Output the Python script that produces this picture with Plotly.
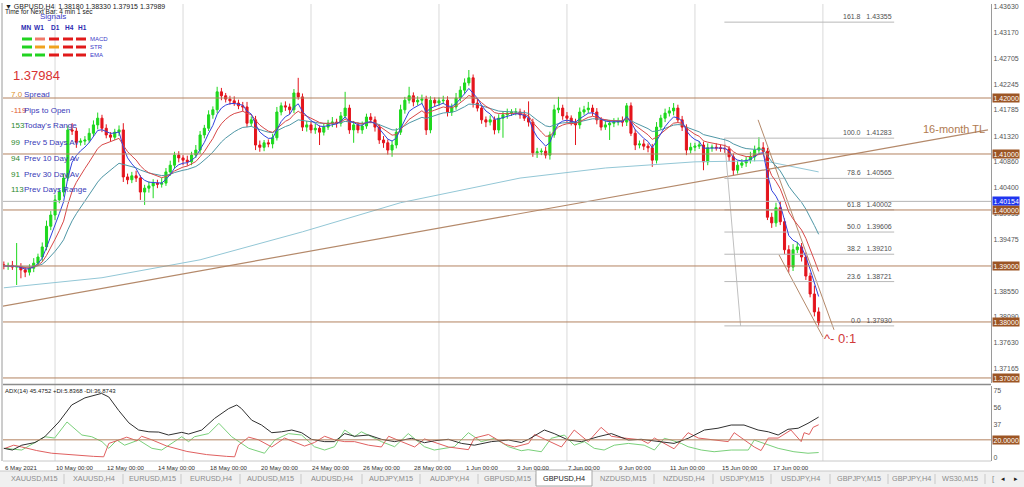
import numpy as np
import pandas as pd
import plotly.graph_objects as go

# ---------------- data (GBPUSD H4, bars from 6 May 2021 00:00) ----------------
OPEN = [1.3902, 1.3900, 1.3901, 1.3898, 1.3899, 1.3893, 1.3889, 1.3896, 1.3905, 1.3916, 1.3934, 1.3971,
        1.3991, 1.4018, 1.4032, 1.4057, 1.4143, 1.4141, 1.4121, 1.4123, 1.4125, 1.4137, 1.4152, 1.4164,
        1.4146, 1.4134, 1.4130, 1.4139, 1.4143, 1.4059, 1.4054, 1.4061, 1.4057, 1.4032, 1.4039, 1.4043,
        1.4048, 1.4046, 1.4048, 1.4068, 1.4080, 1.4098, 1.4093, 1.4089, 1.4086, 1.4098, 1.4107, 1.4134,
        1.4146, 1.4170, 1.4179, 1.4211, 1.4204, 1.4198, 1.4195, 1.4191, 1.4186, 1.4184, 1.4155, 1.4161,
        1.4116, 1.4112, 1.4120, 1.4118, 1.4129, 1.4175, 1.4186, 1.4184, 1.4179, 1.4209, 1.4202, 1.4148,
        1.4152, 1.4143, 1.4146, 1.4139, 1.4148, 1.4155, 1.4157, 1.4155, 1.4168, 1.4182, 1.4143, 1.4152,
        1.4143, 1.4150, 1.4166, 1.4161, 1.4148, 1.4125, 1.4120, 1.4107, 1.4116, 1.4139, 1.4179, 1.4196,
        1.4204, 1.4193, 1.4196, 1.4198, 1.4143, 1.4196, 1.4191, 1.4195, 1.4196, 1.4175, 1.4184, 1.4200,
        1.4214, 1.4227, 1.4236, 1.4191, 1.4182, 1.4161, 1.4157, 1.4161, 1.4143, 1.4164, 1.4170, 1.4173,
        1.4175, 1.4175, 1.4170, 1.4164, 1.4157, 1.4102, 1.4104, 1.4105, 1.4098, 1.4134, 1.4179, 1.4182,
        1.4168, 1.4164, 1.4157, 1.4152, 1.4175, 1.4179, 1.4182, 1.4175, 1.4161, 1.4148, 1.4152, 1.4155,
        1.4157, 1.4159, 1.4157, 1.4186, 1.4137, 1.4116, 1.4118, 1.4114, 1.4111, 1.4089, 1.4148, 1.4164,
        1.4173, 1.4177, 1.4182, 1.4161, 1.4148, 1.4107, 1.4112, 1.4114, 1.4116, 1.4086, 1.4111, 1.4112,
        1.4111, 1.4110, 1.4109, 1.4095, 1.4071, 1.4080, 1.4084, 1.4089, 1.4095, 1.4107, 1.4111, 1.4105,
        1.3987, 1.3977, 1.4004, 1.3979, 1.3929, 1.3898, 1.3929, 1.3934, 1.3916, 1.3882, 1.3850, 1.3818]

CLOSE = [1.3900, 1.3901, 1.3898, 1.3899, 1.3893, 1.3889, 1.3896, 1.3905, 1.3916, 1.3934, 1.3971, 1.3991,
         1.4018, 1.4032, 1.4057, 1.4143, 1.4141, 1.4121, 1.4123, 1.4125, 1.4137, 1.4152, 1.4164, 1.4146,
         1.4134, 1.4130, 1.4139, 1.4143, 1.4059, 1.4054, 1.4061, 1.4057, 1.4032, 1.4039, 1.4043, 1.4048,
         1.4046, 1.4048, 1.4068, 1.4080, 1.4098, 1.4093, 1.4089, 1.4086, 1.4098, 1.4107, 1.4134, 1.4146,
         1.4170, 1.4179, 1.4211, 1.4204, 1.4198, 1.4195, 1.4191, 1.4186, 1.4184, 1.4155, 1.4161, 1.4116,
         1.4112, 1.4120, 1.4118, 1.4129, 1.4175, 1.4186, 1.4184, 1.4179, 1.4209, 1.4202, 1.4148, 1.4152,
         1.4143, 1.4146, 1.4139, 1.4148, 1.4155, 1.4157, 1.4155, 1.4168, 1.4182, 1.4143, 1.4152, 1.4143,
         1.4150, 1.4166, 1.4161, 1.4148, 1.4125, 1.4120, 1.4107, 1.4116, 1.4139, 1.4179, 1.4196, 1.4204,
         1.4193, 1.4196, 1.4198, 1.4143, 1.4196, 1.4191, 1.4195, 1.4196, 1.4175, 1.4184, 1.4200, 1.4214,
         1.4227, 1.4236, 1.4191, 1.4182, 1.4161, 1.4157, 1.4161, 1.4143, 1.4164, 1.4170, 1.4173, 1.4175,
         1.4175, 1.4170, 1.4164, 1.4157, 1.4102, 1.4104, 1.4105, 1.4098, 1.4134, 1.4179, 1.4182, 1.4168,
         1.4164, 1.4157, 1.4152, 1.4175, 1.4179, 1.4182, 1.4175, 1.4161, 1.4148, 1.4152, 1.4155, 1.4157,
         1.4159, 1.4157, 1.4186, 1.4137, 1.4116, 1.4118, 1.4114, 1.4111, 1.4089, 1.4148, 1.4164, 1.4173,
         1.4177, 1.4182, 1.4161, 1.4148, 1.4107, 1.4112, 1.4114, 1.4116, 1.4086, 1.4111, 1.4112, 1.4111,
         1.4110, 1.4109, 1.4095, 1.4071, 1.4080, 1.4084, 1.4089, 1.4095, 1.4107, 1.4111, 1.4105, 1.3987,
         1.3977, 1.4004, 1.3979, 1.3929, 1.3898, 1.3929, 1.3934, 1.3916, 1.3882, 1.3850, 1.3818, 1.37989]

# wick lengths above / below the candle body, in pips
UPPER_WICK = [6, 5, 8, 42, 6, 5, 7, 9, 6, 8, 10, 7, 9, 6, 8, 8, 12, 6, 5, 7, 9, 8, 10, 6,
              7, 5, 6, 8, 12, 6, 7, 9, 5, 6, 8, 7, 6, 9, 7, 8, 6, 7, 5, 8, 6, 9, 7, 6,
              8, 6, 9, 7, 5, 6, 8, 6, 7, 9, 6, 7, 8, 5, 6, 7, 9, 6, 8, 6, 7, 27, 6, 7,
              6, 8, 5, 7, 6, 9, 6, 7, 29, 6, 7, 5, 8, 6, 7, 6, 5, 7, 6, 8, 7, 9, 6, 16,
              6, 7, 8, 6, 7, 5, 6, 8, 7, 6, 9, 7, 8, 14, 6, 7, 5, 6, 8, 6, 7, 6, 8, 5,
              7, 6, 8, 30, 6, 7, 5, 8, 6, 9, 20, 6, 7, 5, 6, 8, 7, 11, 6, 7, 5, 8, 6, 7,
              6, 8, 5, 6, 7, 6, 8, 5, 7, 9, 6, 8, 7, 9, 6, 7, 5, 8, 6, 7, 6, 8, 5, 7,
              6, 7, 5, 6, 8, 7, 6, 9, 8, 19, 10, 6, 8, 9, 12, 6, 8, 10, 9, 7, 8, 6, 15, 8]
LOWER_WICK = [6, 7, 5, 32, 15, 9, 6, 7, 5, 8, 6, 7, 9, 6, 8, 5, 7, 10, 6, 7, 5, 6, 8, 7,
              6, 8, 5, 7, 9, 8, 6, 7, 14, 23, 8, 22, 7, 6, 5, 7, 6, 8, 9, 7, 6, 5, 7, 6,
              5, 7, 6, 8, 6, 7, 5, 6, 8, 7, 6, 9, 8, 7, 6, 8, 5, 6, 7, 8, 6, 5, 7, 8,
              6, 7, 23, 6, 5, 7, 8, 6, 5, 7, 23, 6, 7, 5, 6, 8, 7, 9, 8, 12, 6, 5, 7, 6,
              8, 6, 7, 9, 6, 7, 5, 6, 8, 7, 5, 6, 7, 5, 8, 6, 7, 9, 6, 8, 6, 35, 7, 5,
              6, 7, 5, 8, 7, 9, 6, 6, 8, 5, 6, 7, 8, 6, 36, 7, 5, 6, 7, 8, 6, 5, 27, 7,
              6, 8, 7, 5, 9, 6, 7, 8, 12, 6, 5, 7, 6, 8, 5, 7, 9, 6, 7, 5, 15, 6, 7, 5,
              6, 7, 8, 10, 6, 5, 7, 6, 8, 5, 6, 5, 9, 7, 6, 8, 10, 7, 6, 8, 7, 6, 8, 7]

# long-term moving average, read at a few bars
MA_LONG_BAR = [0, 23, 46, 70, 93, 121, 141, 162, 178, 191]
MA_LONG_VAL = [1.3861, 1.3879, 1.3911, 1.3961, 1.4013, 1.4057, 1.4075, 1.4086, 1.4088, 1.4068]

# ADX(14) pane, read at vertices
ADX_BAR = [0, 2, 4.2, 7.3, 9.6, 12.9, 15.9, 19, 22.9, 24.6, 26.9, 29.3, 31.6, 34, 36.3, 38.6, 41.7, 43.3,
           46.4, 49.4, 52.7, 54.6, 55.7, 58.1, 60.4, 62.8, 65.1, 67.5, 69.8, 72.1, 75.2, 77.5, 79.9, 82.2,
           85.5, 88.5, 91.6, 95.6, 98.6, 101, 104.2, 107.3, 110.3, 114.3, 118.3, 121.3, 123, 126.7, 129,
           132.3, 135.4, 139.3, 142.4, 146.4, 149.4, 153.4, 157.1, 160.4, 164.2, 167.4, 170.5, 173.5,
           176.8, 179.2, 181.5, 183.8, 186.2, 188.5, 190.4, 191]
ADX_VAL = [10.5, 8.6, 14, 17, 23.5, 40, 59, 67, 72, 68, 53, 39, 31, 29, 28.7, 25.4, 28.4, 26.5,
           31, 44, 55, 59, 55, 42, 36.6, 28, 29, 31, 28, 20.6, 18, 18, 27, 24,
           25.4, 20.6, 18, 21.7, 16.8, 19, 20.6, 16, 14, 18, 19.8, 17, 20.6, 31, 27,
           19.8, 18, 23.5, 27, 19.8, 20.6, 18, 16, 21.7, 31, 33, 36.6, 36.6,
           31, 29, 25.4, 31.8, 33, 38.5, 44, 45.5]
PDI_BAR = [0, 4.2, 7.3, 9.6, 11.9, 14.8, 18.3, 20.6, 23, 24.6, 26.5, 28.3, 31.6, 34.7, 37, 40, 41.7,
           43.3, 44.7, 48, 50.4, 53.4, 57.4, 61.1, 63.5, 66.7, 69.8, 72.8, 75.2, 77.5, 79.9, 82.2, 83.8,
           86.2, 88.5, 91.6, 94.8, 98.6, 100.9, 105.6, 108.9, 111.9, 115, 118.3, 121.3, 122.9, 126,
           128.3, 131.4, 133.7, 136.1, 138.4, 140.7, 143.1, 146.4, 150.1, 152.5, 154.8, 156.4, 158.8,
           160.4, 163.5, 166.5, 170.5, 174.5, 175.9, 178.2, 181.5, 185.2, 188.5, 191]
PDI_VAL = [10.5, 8.6, 17, 23.5, 22, 40, 25.4, 23.5, 18, 10.5, 19.8, 14, 19.8, 10.5, 8.6, 18, 23.5,
           18, 23.5, 27, 38.5, 23.5, 10.5, 5, 19.8, 27, 25.4, 12.3, 8.6, 12.3, 31, 23.5, 29,
           23.5, 18, 12.3, 27, 12.3, 8.6, 12.3, 28, 18, 21.7, 12.3, 7.8, 9, 6.7,
           21.7, 25.4, 14, 18, 10.5, 8.6, 14, 16, 14, 8.6, 21.7, 19.8, 16,
           12.3, 8.6, 6.7, 8.6, 8.6, 19.8, 16, 10.5, 6.7, 5, 5.8]
MDI_BAR = [0, 2.3, 4.2, 7.7, 11.2, 15.9, 21, 23.4, 24.6, 26.5, 28.8, 31.2, 32.3, 34.7, 38.2, 42.9,
           47.5, 52.2, 54.1, 55, 57.4, 59.7, 62.8, 65.8, 67.9, 70.5, 72.8, 75.2, 77.5, 79.9, 82.2, 85.5,
           88.5, 90.2, 93.2, 96.3, 98.6, 102.6, 104.2, 108.9, 110.3, 113.6, 115.9, 117.5, 119.7, 123,
           124.4, 129, 130.7, 133.7, 137, 140, 142.4, 145.4, 149.4, 151, 152.5, 157.1, 160.4, 162.8,
           166.5, 169.8, 171.2, 175.9, 177.5, 179.2, 181.5, 184.5, 186.9, 187.6, 188.8, 189.7, 191]
MDI_VAL = [10, 14, 12, 8, 5, 3, 1.5, 1, 16, 19, 23, 19, 24, 20, 13, 7,
           3.5, 1.5, 1, 14, 23, 20, 12, 22, 18, 13, 17, 24, 20, 18, 18, 14,
           12, 24, 18, 12, 21, 14, 12, 9, 22, 26, 19, 15, 12, 16,
           26, 16, 12, 31, 18, 34, 24, 22, 20, 16, 22, 10, 28, 22,
           20, 18, 28, 12, 8, 22, 22, 31, 18, 28, 26, 34, 36.9]

DATE_BARS = [0, 12, 24, 36, 48, 60, 72, 84, 96, 108, 120, 132, 144, 156, 168, 180]
DATE_LABELS = ["6 May 2021", "10 May 00:00", "12 May 00:00", "14 May 00:00", "18 May 00:00",
               "20 May 00:00", "24 May 00:00", "26 May 00:00", "28 May 00:00", "1 Jun 00:00",
               "3 Jun 00:00", "7 Jun 00:00", "9 Jun 00:00", "11 Jun 00:00", "15 Jun 00:00",
               "17 Jun 00:00"]
WEEK_START_BARS = [12, 42, 72, 102, 132, 162, 192]

PRICE_TICKS = [1.43630, 1.43170, 1.42705, 1.42245, 1.41785, 1.41320, 1.40860, 1.40400, 1.39935,
               1.39475, 1.39015, 1.38550, 1.38090, 1.37630, 1.37165]
LEVELS = [1.42, 1.41, 1.40, 1.39, 1.38, 1.37]
HLINE_GREY = 1.40154
ADX_TICKS = [0, 18.75, 37.5, 56.25, 75]
ADX_TICKTEXT = ["0", "18", "37", "56", "75"]
ADX_LEVEL = 20

FIB_PCT = ["161.8", "100.0", "78.6", "61.8", "50.0", "38.2", "23.6", "0.0"]
FIB_PRICE = [1.43355, 1.41283, 1.40565, 1.40002, 1.39606, 1.39210, 1.38721, 1.37930]
FIB_BARS = [168.9, 208.7]
FIB_DIAG_BAR = [168.9, 172.7]
FIB_DIAG_PRICE = [1.41283, 1.37930]

TL_BAR = [-0.5, 230.7]
TL_PRICE = [1.3828, 1.4143]
CH_UP_BAR = [176.8, 194.6]
CH_UP_PRICE = [1.4161, 1.3786]
CH_LO_BAR = [181.7, 192.0]
CH_LO_PRICE = [1.3920, 1.3773]

INFO_VALUES = ["7.0", "-119", "153", "99", "94", "91", "113"]
INFO_LABELS = ["Spread", "Pips to Open", "Today's Range", "Prev 5 Days Av", "Prev 10 Day Av",
               "Prev 30 Day Av", "Prev Days Range"]
SIG_TF = ["MN", "W1", "D1", "H4", "H1"]
SIG_ROWS = ["MACD", "STR", "EMA"]
SIG_COLORS = [["#21d321", "#f07a6a", "#e01a1a", "#e01a1a", "#e01a1a"],
              ["#21d321", "#f0a21e", "#f0a21e", "#e01a1a", "#e01a1a"],
              ["#21d321", "#21d321", "#e01a1a", "#e01a1a", "#e01a1a"]]
TABS = ["XAUUSD,M15", "XAUUSD,H4", "EURUSD,M15", "EURUSD,H4", "AUDUSD,M15", "AUDUSD,H4",
        "AUDJPY,M15", "AUDJPY,H4", "GBPUSD,M15", "GBPUSD,H4", "NZDUSD,M15", "NZDUSD,H4",
        "USDJPY,M15", "USDJPY,H4", "GBPJPY,M15", "GBPJPY,H4", "WS30,M15"]
ACTIVE_TAB = "GBPUSD,H4"

# ---------------- derived ----------------
bars = np.arange(len(CLOSE))
o = np.array(OPEN); c = np.array(CLOSE)
HIGH = np.maximum(o, c) + np.array(UPPER_WICK) * 1e-4
LOW = np.minimum(o, c) - np.array(LOWER_WICK) * 1e-4
cs = pd.Series(CLOSE)
ema_fast = cs.ewm(span=5, adjust=False).mean()
ema_mid = cs.ewm(span=10, adjust=False).mean()
ema_slow = cs.ewm(span=21, adjust=False).mean()

# ---------------- layout geometry (pixels) ----------------
W, H = 1024, 487
PL, PR, PT, PB = 3, 991, 4, 461
MAIN_BOTTOM, ADX_TOP = 383, 386


def px(x):
    return (x - PL) / (PR - PL)


def py(y):
    return (PB - y) / (PB - PT)


FONT = "Liberation Sans, Arial, sans-serif"
BROWN = "#b38260"
BROWN_BOX = "#9c5524"

fig = go.Figure()

fig.add_trace(go.Scatter(x=MA_LONG_BAR, y=MA_LONG_VAL, mode="lines", line=dict(color="#93c7d6", width=1),
                         hoverinfo="skip", showlegend=False))
fig.add_trace(go.Scatter(x=TL_BAR, y=TL_PRICE, mode="lines", line=dict(color="#b4896a", width=1.2),
                         hoverinfo="skip", showlegend=False))
fig.add_trace(go.Scatter(x=CH_UP_BAR, y=CH_UP_PRICE, mode="lines", line=dict(color="#b4896a", width=1),
                         hoverinfo="skip", showlegend=False))
fig.add_trace(go.Scatter(x=CH_LO_BAR, y=CH_LO_PRICE, mode="lines", line=dict(color="#b4896a", width=1),
                         hoverinfo="skip", showlegend=False))
fig.add_trace(go.Scatter(x=FIB_DIAG_BAR, y=FIB_DIAG_PRICE, mode="lines", line=dict(color="#c0c0c0", width=1),
                         hoverinfo="skip", showlegend=False))
for fp in FIB_PRICE:
    fig.add_trace(go.Scatter(x=FIB_BARS, y=[fp, fp], mode="lines", line=dict(color="#b8b8b8", width=1),
                             hoverinfo="skip", showlegend=False))

fig.add_trace(go.Scatter(x=bars, y=ema_slow, mode="lines", line=dict(color="#4f97a6", width=1),
                         hoverinfo="skip", showlegend=False))
fig.add_trace(go.Scatter(x=bars, y=ema_mid, mode="lines", line=dict(color="#d84848", width=1),
                         hoverinfo="skip", showlegend=False))
fig.add_trace(go.Scatter(x=bars, y=ema_fast, mode="lines", line=dict(color="#3344dd", width=1),
                         hoverinfo="skip", showlegend=False))

fig.add_trace(go.Candlestick(
    x=bars, open=OPEN, high=HIGH, low=LOW, close=CLOSE,
    increasing=dict(line=dict(color="#1ed81e", width=1), fillcolor="#1ed81e"),
    decreasing=dict(line=dict(color="#e4141c", width=1), fillcolor="#e4141c"),
    whiskerwidth=0, hoverinfo="skip", showlegend=False))

fig.add_trace(go.Scatter(x=PDI_BAR, y=PDI_VAL, xaxis="x2", yaxis="y2", mode="lines",
                         line=dict(color="#7ad07a", width=1), hoverinfo="skip", showlegend=False))
fig.add_trace(go.Scatter(x=MDI_BAR, y=MDI_VAL, xaxis="x2", yaxis="y2", mode="lines",
                         line=dict(color="#e06060", width=1), hoverinfo="skip", showlegend=False))
fig.add_trace(go.Scatter(x=ADX_BAR, y=ADX_VAL, xaxis="x2", yaxis="y2", mode="lines",
                         line=dict(color="#303030", width=1), hoverinfo="skip", showlegend=False))

shapes = []
ann = []

for b in WEEK_START_BARS:
    shapes.append(dict(type="line", xref="x", yref="paper", x0=b, x1=b, y0=0, y1=1,
                       line=dict(color="#d9d9d9", width=1), layer="below"))
for lv in LEVELS:
    shapes.append(dict(type="line", xref="paper", yref="y", x0=0, x1=1, y0=lv, y1=lv,
                       line=dict(color=BROWN, width=1)))
shapes.append(dict(type="line", xref="paper", yref="y", x0=0, x1=1, y0=HLINE_GREY, y1=HLINE_GREY,
                   line=dict(color="#b4b4b4", width=1)))
shapes.append(dict(type="line", xref="paper", yref="y2", x0=0, x1=1, y0=ADX_LEVEL, y1=ADX_LEVEL,
                   line=dict(color=BROWN, width=1)))


def axis_box(yval, yref, text, bg):
    ann.append(dict(x=px(992), xref="paper", y=yval, yref=yref, text=text, showarrow=False,
                    xanchor="left", yanchor="middle", bgcolor=bg, borderpad=0.5,
                    font=dict(family=FONT, size=7, color="white")))


for lv in LEVELS:
    axis_box(lv, "y", "%.5f" % lv, BROWN_BOX)
axis_box(HLINE_GREY, "y", "%.5f" % HLINE_GREY, "#1f35f0")
axis_box(ADX_LEVEL, "y2", "20.0000", BROWN_BOX)

shapes.append(dict(type="line", xref="paper", yref="paper", x0=0, x1=1, y0=py(384.5), y1=py(384.5),
                   line=dict(color="#8c8c8c", width=1.5)))
shapes.append(dict(type="line", xref="paper", yref="paper", x0=px(2), x1=px(2), y0=py(461), y1=py(3),
                   line=dict(color="#9a9a9a", width=1)))
shapes.append(dict(type="line", xref="paper", yref="paper", x0=0, x1=1, y0=py(461), y1=py(461),
                   line=dict(color="#c8c8c8", width=1)))

for pct, fp in zip(FIB_PCT, FIB_PRICE):
    ann.append(dict(x=FIB_BARS[1], xref="x", y=fp, yref="y", text=pct + "&nbsp;&nbsp;&nbsp;" + "%.5f" % fp,
                    showarrow=False, xanchor="right", yanchor="bottom",
                    font=dict(family=FONT, size=7, color="#505050")))
ann.append(dict(x=191.8, xref="x", y=1.3771, yref="y", text="^- 0:1", showarrow=False, xanchor="left",
                yanchor="middle", font=dict(family=FONT, size=13, color="#d03a3a")))
ann.append(dict(x=px(987), xref="paper", y=1.4145, yref="y", text="16-month TL", showarrow=False,
                xanchor="right", yanchor="middle", font=dict(family=FONT, size=11, color="#b07a50")))

ann.append(dict(x=px(3), xref="paper", y=py(6), yref="paper",
                text="▼ GBPUSD,H4  1.38180 1.38330 1.37915 1.37989", showarrow=False, xanchor="left",
                yanchor="middle", font=dict(family=FONT, size=7, color="#202020")))
ann.append(dict(x=px(3), xref="paper", y=py(11.5), yref="paper", text="Time for Next Bar: 4 min 1 sec",
                showarrow=False, xanchor="left", yanchor="middle",
                font=dict(family=FONT, size=6.5, color="#202020")))
ann.append(dict(x=px(38), xref="paper", y=py(16), yref="paper", text="Signals", showarrow=False,
                xanchor="left", yanchor="middle", font=dict(family=FONT, size=8, color="#3a3ac8")))
tf_x = [26, 39, 55, 69, 82]
for t, xx in zip(SIG_TF, tf_x):
    ann.append(dict(x=px(xx), xref="paper", y=py(27), yref="paper", text="<b>%s</b>" % t, showarrow=False,
                    xanchor="center", yanchor="middle", font=dict(family=FONT, size=6.5, color="#2a2ab0")))
dash_x = [27, 40, 54, 68, 81]
for r, (row, cols) in enumerate(zip(SIG_ROWS, SIG_COLORS)):
    yy = 39 + r * 8
    for xx, col in zip(dash_x, cols):
        shapes.append(dict(type="rect", xref="paper", yref="paper", x0=px(xx - 5), x1=px(xx + 5),
                           y0=py(yy + 1.5), y1=py(yy - 1.5), fillcolor=col, line=dict(width=0)))
    ann.append(dict(x=px(88), xref="paper", y=py(yy), yref="paper", text=row, showarrow=False,
                    xanchor="left", yanchor="middle", font=dict(family=FONT, size=6, color="#3a3ac8")))

ann.append(dict(x=px(11), xref="paper", y=py(75), yref="paper", text="1.37984", showarrow=False,
                xanchor="left", yanchor="middle", font=dict(family=FONT, size=13, color="#d83232")))
val_colors = ["#e0922a", "#e05a35", "#2e8b2e", "#2e8b2e", "#2e8b2e", "#2e8b2e", "#2e8b2e"]
for k, (v, lab) in enumerate(zip(INFO_VALUES, INFO_LABELS)):
    yy = 94 + 16 * k
    ann.append(dict(x=px(8.5), xref="paper", y=py(yy), yref="paper", text=v, showarrow=False,
                    xanchor="left", yanchor="middle", font=dict(family=FONT, size=8, color=val_colors[k])))
    ann.append(dict(x=px(22), xref="paper", y=py(yy), yref="paper", text=lab, showarrow=False,
                    xanchor="left", yanchor="middle", font=dict(family=FONT, size=8, color="#3a3ab8")))

ann.append(dict(x=px(3), xref="paper", y=py(391), yref="paper",
                text="ADX(14) 45.4752 +DI:5.8368 -DI:36.8743", showarrow=False, xanchor="left",
                yanchor="middle", font=dict(family=FONT, size=6, color="#202020")))

for b, lab in zip(DATE_BARS, DATE_LABELS):
    ann.append(dict(x=b, xref="x2", y=py(467), yref="paper", text=lab, showarrow=False, xanchor="left",
                    yanchor="middle", xshift=-1, font=dict(family=FONT, size=6.1, color="#303030")))

shapes.append(dict(type="rect", xref="paper", yref="paper", x0=px(0), x1=px(1024), y0=py(487), y1=py(471),
                   fillcolor="#f0f0f0", line=dict(width=0)))
shapes.append(dict(type="line", xref="paper", yref="paper", x0=px(0), x1=px(1024), y0=py(471), y1=py(471),
                   line=dict(color="#c8c8c8", width=1)))
tab_edges = [5, 64, 123, 181, 240, 301, 362, 420, 478, 536, 592, 654, 713, 771, 830, 888, 935, 985]
for k, name in enumerate(TABS):
    x0, x1 = tab_edges[k], tab_edges[k + 1]
    active = name == ACTIVE_TAB
    if active:
        shapes.append(dict(type="rect", xref="paper", yref="paper", x0=px(x0), x1=px(x1), y0=py(486),
                           y1=py(470), fillcolor="white", line=dict(color="#a8a8a8", width=1)))
    else:
        shapes.append(dict(type="line", xref="paper", yref="paper", x0=px(x1), x1=px(x1), y0=py(484),
                           y1=py(474), line=dict(color="#c8c8c8", width=1)))
    ann.append(dict(x=px((x0 + x1) / 2), xref="paper", y=py(478.5), yref="paper", text=name,
                    showarrow=False, xanchor="center", yanchor="middle",
                    font=dict(family=FONT, size=7.3, color="#222222" if active else "#8c8c8c")))
ann.append(dict(x=px(993), xref="paper", y=py(478.5), yref="paper", text="[", showarrow=False,
                xanchor="center", yanchor="middle", font=dict(family=FONT, size=8, color="#8c8c8c")))
ann.append(dict(x=px(1003), xref="paper", y=py(478.5), yref="paper", text="◂", showarrow=False,
                xanchor="center", yanchor="middle", font=dict(family=FONT, size=7, color="#202020")))
ann.append(dict(x=px(1016), xref="paper", y=py(478.5), yref="paper", text="▸", showarrow=False,
                xanchor="center", yanchor="middle", font=dict(family=FONT, size=7, color="#202020")))

main_dom = [py(MAIN_BOTTOM), 1.0]
adx_dom = [0.0, py(ADX_TOP)]
y_hi = 1.4200 + (98 - PT) * 0.0001786
y_lo = 1.4200 - (MAIN_BOTTOM - 98) * 0.0001786
a_hi = (457.7 - ADX_TOP) / 0.893
a_lo = (457.7 - PB) / 0.893

fig.update_layout(
    width=W, height=H, margin=dict(l=PL, r=W - PR, t=PT, b=H - PB, autoexpand=False),
    paper_bgcolor="white", plot_bgcolor="white", showlegend=False,
    xaxis=dict(domain=[0, 1], range=[-0.2, 231.4], anchor="y", showticklabels=False, showgrid=False,
               zeroline=False, rangeslider=dict(visible=False), fixedrange=True),
    yaxis=dict(domain=main_dom, range=[y_lo, y_hi], side="right", tickvals=PRICE_TICKS,
               ticktext=["%.5f" % t for t in PRICE_TICKS], ticks="", ticklen=0, ticklabelstandoff=0,
               showgrid=False, zeroline=False, automargin=False,
               showline=True, linecolor="#9a9a9a", tickfont=dict(family=FONT, size=7, color="#555555")),
    xaxis2=dict(domain=[0, 1], range=[-0.2, 231.4], anchor="y2", matches="x", showticklabels=False,
                showgrid=False, zeroline=False),
    yaxis2=dict(domain=adx_dom, range=[a_lo, a_hi], side="right", tickvals=ADX_TICKS, ticktext=ADX_TICKTEXT,
                ticks="", ticklen=0, ticklabelstandoff=0, showgrid=False, zeroline=False, automargin=False,
                showline=True, linecolor="#9a9a9a",
                tickfont=dict(family=FONT, size=7, color="#555555")),
    shapes=shapes, annotations=ann,
)

fig.write_html("out.html", config={"displayModeBar": False},
               post_script="document.body.style.margin='0';document.body.style.overflow='hidden';")
